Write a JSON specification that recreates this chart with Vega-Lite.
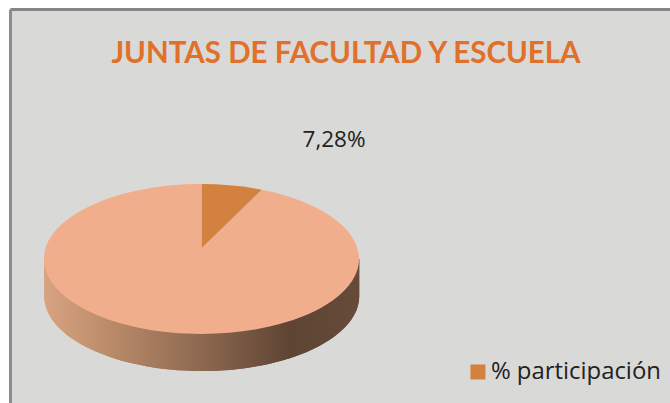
{"$schema":"https://vega.github.io/schema/vega-lite/v6.json","width":660,"height":394,"autosize":"none","padding":{"left":10,"top":9,"right":0,"bottom":0},"background":"#ffffff","view":{"fill":"#d9d9d7","stroke":null},"title":{"text":"JUNTAS DE FACULTAD Y ESCUELA","anchor":"middle","orient":"top","offset":-53,"dy":30,"dx":6,"baseline":"alphabetic","font":"Lato","fontSize":29.5,"fontWeight":"bold","color":"#e0702a"},"data":{"values":[{"slice":"% participación","value":7.28,"label":"7,28%"},{"slice":"Resto","value":92.72,"label":"92,72%"}]},"encoding":{"x":{"datum":29.05,"type":"quantitative","scale":{"domain":[0,100]},"axis":{"orient":"top","title":null,"labels":false,"ticks":false,"grid":false,"domain":true,"domainColor":"#868686","domainWidth":3}},"y":{"datum":63.45,"type":"quantitative","scale":{"domain":[100,0]},"axis":{"orient":"left","title":null,"labels":false,"ticks":false,"grid":false,"domain":true,"domainColor":"#8c8c8c","domainWidth":3}}},"layer":[{"mark":{"type":"point","filled":true,"opacity":1,"size":4,"strokeWidth":0,"shape":"M-157.5,0 L-157.5,37 A157.5,75 0 0 0 157.5,37 L157.5,0 Z","fill":{"gradient":"linear","x1":0,"y1":0,"x2":1,"y2":0,"stops":[{"offset":0,"color":"#d8a383"},{"offset":0.15,"color":"#c3926f"},{"offset":0.5,"color":"#8d6850"},{"offset":0.78,"color":"#5e4433"},{"offset":1,"color":"#664b3a"}]}}},{"transform":[{"filter":"datum.slice === 'Resto'"}],"mark":{"type":"point","filled":true,"opacity":1,"strokeWidth":0,"size":4,"fill":"#f0ae8c","shape":"M0,-11 L60,-69.3 A157.5,75 0 1 1 0,-75 Z"}},{"transform":[{"filter":"datum.slice === '% participación'"}],"mark":{"type":"point","filled":true,"opacity":1,"strokeWidth":0,"size":4,"fill":"#d3813f","shape":"M0,-11 L0,-75 A157.5,75 0 0 1 60,-69.3 Z"}},{"transform":[{"filter":"datum.slice === '% participación'"}],"mark":{"type":"point","filled":true,"opacity":1,"strokeWidth":0,"size":0,"shape":"square"},"encoding":{"color":{"field":"slice","type":"nominal","scale":{"domain":["% participación","Resto"],"range":["#d3813f","#f0ae8c"]},"legend":{"values":["% participación"],"orient":"none","legendX":456,"legendY":351,"title":null,"symbolType":"square","symbolSize":225,"symbolStrokeWidth":0,"symbolOpacity":1,"labelFont":"Open Sans","labelFontSize":23.9,"labelLimit":400,"labelColor":"#222222","labelOffset":1,"padding":0}}}},{"transform":[{"filter":"datum.slice === '% participación'"}],"mark":{"type":"text","font":"Open Sans","fontSize":22.5,"color":"#222222","baseline":"alphabetic","align":"center"},"encoding":{"x":{"datum":49.1,"type":"quantitative"},"y":{"datum":35,"type":"quantitative"},"text":{"field":"label","type":"nominal"}}}]}
